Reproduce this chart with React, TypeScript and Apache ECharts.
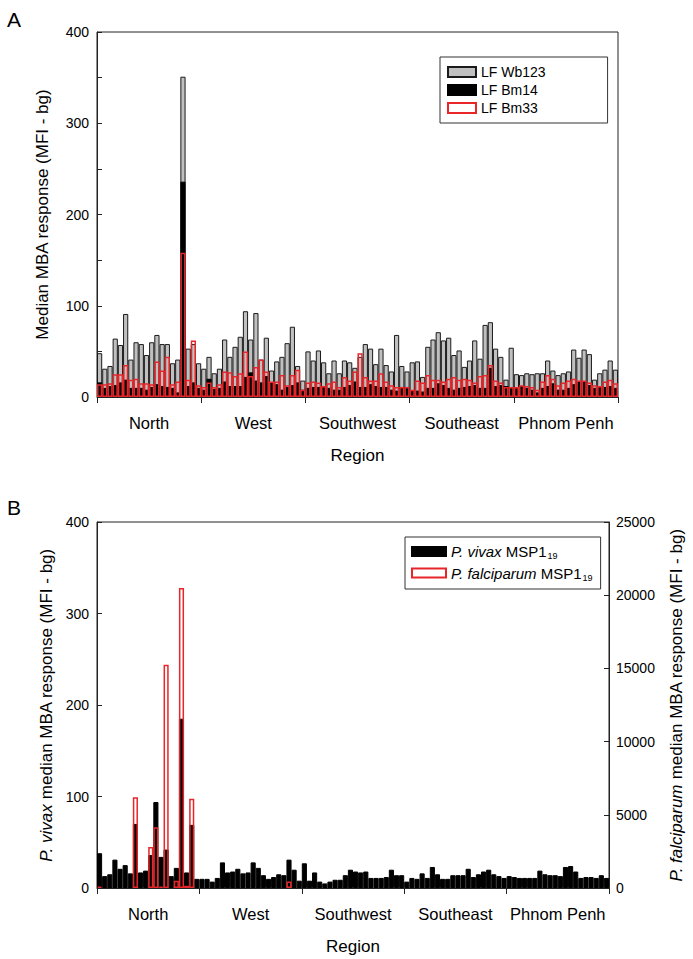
import React, { useEffect, useRef } from "react";
import * as echarts from "echarts";

// ---------- data ----------
const regions = ["North", "West", "Southwest", "Southeast", "Phnom Penh"];
const siteIds = [
  "N1","N2","N3","N4","N5","N6","N7","N8","N9","N10","N11","N12","N13","N14","N15","N16","N17","N18","N19","N20",
  "W1","W2","W3","W4","W5","W6","W7","W8","W9","W10","W11","W12","W13","W14","W15","W16","W17","W18","W19","W20",
  "SW1","SW2","SW3","SW4","SW5","SW6","SW7","SW8","SW9","SW10","SW11","SW12","SW13","SW14","SW15","SW16","SW17","SW18","SW19","SW20",
  "SE1","SE2","SE3","SE4","SE5","SE6","SE7","SE8","SE9","SE10","SE11","SE12","SE13","SE14","SE15","SE16","SE17","SE18","SE19","SE20",
  "PP1","PP2","PP3","PP4","PP5","PP6","PP7","PP8","PP9","PP10","PP11","PP12","PP13","PP14","PP15","PP16","PP17","PP18","PP19","PP20",
];

// Panel A (MFI - bg)
const lfWb123 = [
  48, 31, 34, 64, 57, 91, 41, 60, 58, 46, 60, 68, 58, 58, 37, 41, 351, 53, 58, 37,
  31, 44, 26, 31, 63, 44, 55, 66, 94, 63, 92, 41, 65, 29, 39, 44, 59, 77, 34, 18,
  50, 40, 51, 38, 26, 40, 26, 40, 38, 32, 44, 58, 53, 36, 53, 35, 28, 68, 34, 28,
  38, 39, 22, 55, 63, 71, 62, 65, 46, 51, 33, 40, 62, 42, 79, 82, 53, 44, 19, 54,
  25, 24, 26, 25, 26, 26, 40, 29, 24, 26, 28, 52, 43, 52, 47, 19, 26, 30, 40, 30,
];
const lfBm14 = [
  16, 10, 12, 13, 16, 19, 10, 10, 10, 8, 11, 14, 12, 11, 10, 5, 236, 12, 16, 10,
  8, 20, 9, 10, 17, 12, 12, 12, 22, 27, 18, 16, 23, 16, 14, 8, 11, 13, 16, 8,
  10, 11, 11, 11, 10, 8, 8, 11, 13, 17, 11, 11, 14, 12, 11, 11, 8, 7, 11, 11,
  7, 7, 6, 10, 10, 15, 13, 10, 8, 10, 11, 12, 13, 10, 10, 32, 12, 13, 12, 10,
  10, 12, 10, 8, 5, 10, 12, 15, 8, 8, 10, 14, 17, 17, 13, 10, 11, 11, 12, 10,
];
const lfBm33 = [
  14, 14, 15, 25, 25, 35, 19, 20, 15, 15, 14, 39, 29, 44, 14, 17, 158, 19, 62, 13,
  11, 16, 11, 14, 28, 27, 23, 26, 50, 23, 33, 41, 28, 17, 17, 24, 13, 24, 30, 8,
  16, 17, 16, 12, 15, 17, 11, 22, 18, 28, 48, 22, 18, 18, 26, 17, 13, 11, 11, 11,
  8, 18, 16, 24, 19, 19, 17, 20, 22, 19, 20, 19, 16, 23, 24, 35, 18, 16, 11, 11,
  11, 13, 12, 11, 8, 17, 24, 20, 13, 16, 18, 20, 18, 18, 16, 13, 12, 17, 19, 15,
];

// Panel B
const pvMsp119 = [
  38, 13, 15, 31, 21, 25, 16, 70, 17, 19, 36, 94, 34, 42, 13, 22, 185, 17, 69, 10,
  10, 10, 7, 11, 28, 17, 18, 21, 16, 17, 28, 22, 14, 10, 12, 15, 14, 31, 20, 8,
  27, 8, 17, 7, 5, 7, 9, 9, 14, 20, 18, 17, 18, 11, 11, 11, 12, 20, 14, 14,
  7, 11, 10, 16, 11, 23, 15, 10, 10, 14, 14, 14, 21, 12, 15, 18, 20, 15, 13, 11,
  13, 12, 11, 11, 11, 11, 19, 15, 14, 14, 13, 23, 24, 18, 11, 12, 12, 11, 14, 11,
];
const pfMsp119 = [
  100, "-", "-", "-", "-", "-", "-", 6200, "-", "-", 2800, 4150, 100, 15250, "-", 500, 20500, 150, 6100, "-",
  "-", "-", "-", "-", "-", "-", "-", "-", "-", "-", "-", "-", "-", "-", "-", "-", "-", 450, "-", "-",
  "-", "-", "-", "-", "-", "-", "-", "-", "-", "-", "-", "-", "-", "-", "-", "-", "-", "-", "-", "-",
  "-", "-", "-", "-", "-", "-", "-", "-", "-", "-", "-", "-", "-", "-", "-", "-", "-", "-", "-", "-",
  "-", "-", "-", "-", "-", "-", "-", "-", "-", "-", "-", "-", "-", "-", "-", "-", "-", "-", "-", "-",
];

const leftTicksA = { min: 0, max: 400, interval: 100 };
const leftTicksB = { min: 0, max: 400, interval: 100 };
const rightTicksB = { min: 0, max: 25000, interval: 5000 };

const FONT = "'Liberation Sans', Arial, sans-serif";
const RED = "#e8262a";

export default function App() {
  const ref = useRef<HTMLDivElement>(null);

  useEffect(() => {
    if (!ref.current) return;
    const chart = echarts.init(ref.current, undefined, { renderer: "svg" });

    const axisLine = { show: true, lineStyle: { color: "#222", width: 1 } };
    const tickLabel = { color: "#000", fontSize: 14, fontFamily: FONT };
    const titleStyle = { color: "#000", fontSize: 17, fontFamily: FONT };

    const regionAxis = (gridIndex: number) => ({
      gridIndex,
      type: "category",
      data: regions,
      position: "bottom",
      boundaryGap: true,
      axisLine,
      axisTick: { show: true, interval: 0, alignWithLabel: false, length: 6, inside: false, lineStyle: { color: "#222" } },
      axisLabel: { ...tickLabel, fontSize: 16.5, margin: 17, interval: 0 },
      splitLine: { show: false },
      name: "Region",
      nameLocation: "middle",
      nameGap: 50,
      nameTextStyle: titleStyle,
    });
    const siteAxis = (gridIndex: number) => ({
      gridIndex,
      type: "category",
      data: siteIds,
      show: false,
    });

    const option: any = {
      animation: false,
      backgroundColor: "#fff",
      graphic: [
        { type: "text", left: 7, top: 9, style: { text: "A", fontSize: 21, fontFamily: FONT, fill: "#000" } },
        { type: "text", left: 7, top: 497, style: { text: "B", fontSize: 21, fontFamily: FONT, fill: "#000" } },
      ],
      grid: [
        { left: 97, top: 32, width: 521, height: 365, show: true, borderColor: "#222", borderWidth: 1, backgroundColor: "transparent" },
        { left: 97, top: 522, width: 521, height: 366, show: true, borderColor: "#222", borderWidth: 1, backgroundColor: "transparent" },
      ],
      legend: [
        {
          data: ["LF Wb123", "LF Bm14", "LF Bm33"],
          orient: "vertical",
          left: 440,
          top: 57,
          icon: "rect",
          itemWidth: 28,
          itemHeight: 10,
          itemGap: 4,
          padding: [8, 62, 8, 7],
          borderColor: "#333",
          borderWidth: 1,
          textStyle: { color: "#000", fontSize: 14, fontFamily: FONT },
        },
        {
          data: ["Pv", "Pf"],
          orient: "vertical",
          left: 405,
          top: 537,
          icon: "rect",
          itemWidth: 34,
          itemHeight: 9,
          itemGap: 5,
          padding: [7, 8, 7, 6],
          borderColor: "#333",
          borderWidth: 1,
          formatter: (n: string) =>
            n === "Pv" ? "{i|P. vivax} MSP1{s|19}" : "{i|P. falciparum} MSP1{s|19}",
          textStyle: {
            color: "#000",
            fontSize: 15,
            fontFamily: FONT,
            rich: {
              i: { fontStyle: "italic", fontSize: 15, fontFamily: FONT, color: "#000" },
              s: { fontSize: 9, fontFamily: FONT, color: "#000", padding: [9, 0, 0, 1] },
            },
          },
        },
      ],
      xAxis: [siteAxis(0), regionAxis(0), siteAxis(1), regionAxis(1)],
      yAxis: [
        {
          gridIndex: 0,
          type: "value",
          ...leftTicksA,
          position: "left",
          axisLine,
          axisTick: { show: true, inside: true, length: 5, lineStyle: { color: "#222" } },
          minorTick: { show: true, splitNumber: 2, length: 5, lineStyle: { color: "#222" } },
          splitLine: { show: false },
          axisLabel: { ...tickLabel, margin: 8 },
          name: "Median MBA response (MFI - bg)",
          nameLocation: "middle",
          nameRotate: 90,
          nameGap: 46,
          nameTextStyle: titleStyle,
        },
        {
          gridIndex: 1,
          type: "value",
          ...leftTicksB,
          position: "left",
          axisLine,
          axisTick: { show: true, inside: true, length: 5, lineStyle: { color: "#222" } },
          splitLine: { show: false },
          axisLabel: { ...tickLabel, margin: 8 },
          name: "{i|P. vivax} median MBA response (MFI - bg)",
          nameLocation: "middle",
          nameRotate: 90,
          nameGap: 41,
          nameTextStyle: { ...titleStyle, rich: { i: { ...titleStyle, fontStyle: "italic" } } },
        },
        {
          gridIndex: 1,
          type: "value",
          ...rightTicksB,
          position: "right",
          axisLine,
          axisTick: { show: true, inside: true, length: 5, lineStyle: { color: "#222" } },
          splitLine: { show: false },
          axisLabel: { ...tickLabel, margin: 7, formatter: (v: number) => String(v) },
          name: "{i|P. falciparum} median MBA response (MFI - bg)",
          nameLocation: "middle",
          nameRotate: 90,
          nameGap: 59,
          nameTextStyle: { ...titleStyle, rich: { i: { ...titleStyle, fontStyle: "italic" } } },
        },
      ],
      series: [
        {
          type: "bar", name: "LF Wb123", xAxisIndex: 0, yAxisIndex: 0, data: lfWb123,
          barGap: "-100%", barCategoryGap: "0%",
          itemStyle: { color: "#c0c0c0", borderColor: "#1a1a1a", borderWidth: 1 },
        },
        {
          type: "bar", name: "LF Bm14", xAxisIndex: 0, yAxisIndex: 0, data: lfBm14,
          barGap: "-100%", barCategoryGap: "0%",
          itemStyle: { color: "#000", borderColor: "#000", borderWidth: 1 },
        },
        {
          type: "bar", name: "LF Bm33", xAxisIndex: 0, yAxisIndex: 0, data: lfBm33,
          barGap: "-100%", barCategoryGap: "0%",
          itemStyle: { color: "rgba(255,255,255,0)", borderColor: RED, borderWidth: 1.5 },
        },
        {
          type: "bar", name: "Pv", xAxisIndex: 2, yAxisIndex: 1, data: pvMsp119,
          barGap: "-100%", barCategoryGap: "0%",
          itemStyle: { color: "#000", borderColor: "#000", borderWidth: 1 },
        },
        {
          type: "bar", name: "Pf", xAxisIndex: 2, yAxisIndex: 2, data: pfMsp119,
          barGap: "-100%", barCategoryGap: "0%",
          itemStyle: { color: "rgba(255,255,255,0)", borderColor: RED, borderWidth: 1.5 },
        },
      ],
    };

    chart.setOption(option);
    return () => chart.dispose();
  }, []);

  return (
    <div
      ref={ref}
      style={{ position: "fixed", left: 0, top: 0, width: 693, height: 959, background: "#fff" }}
    />
  );
}
